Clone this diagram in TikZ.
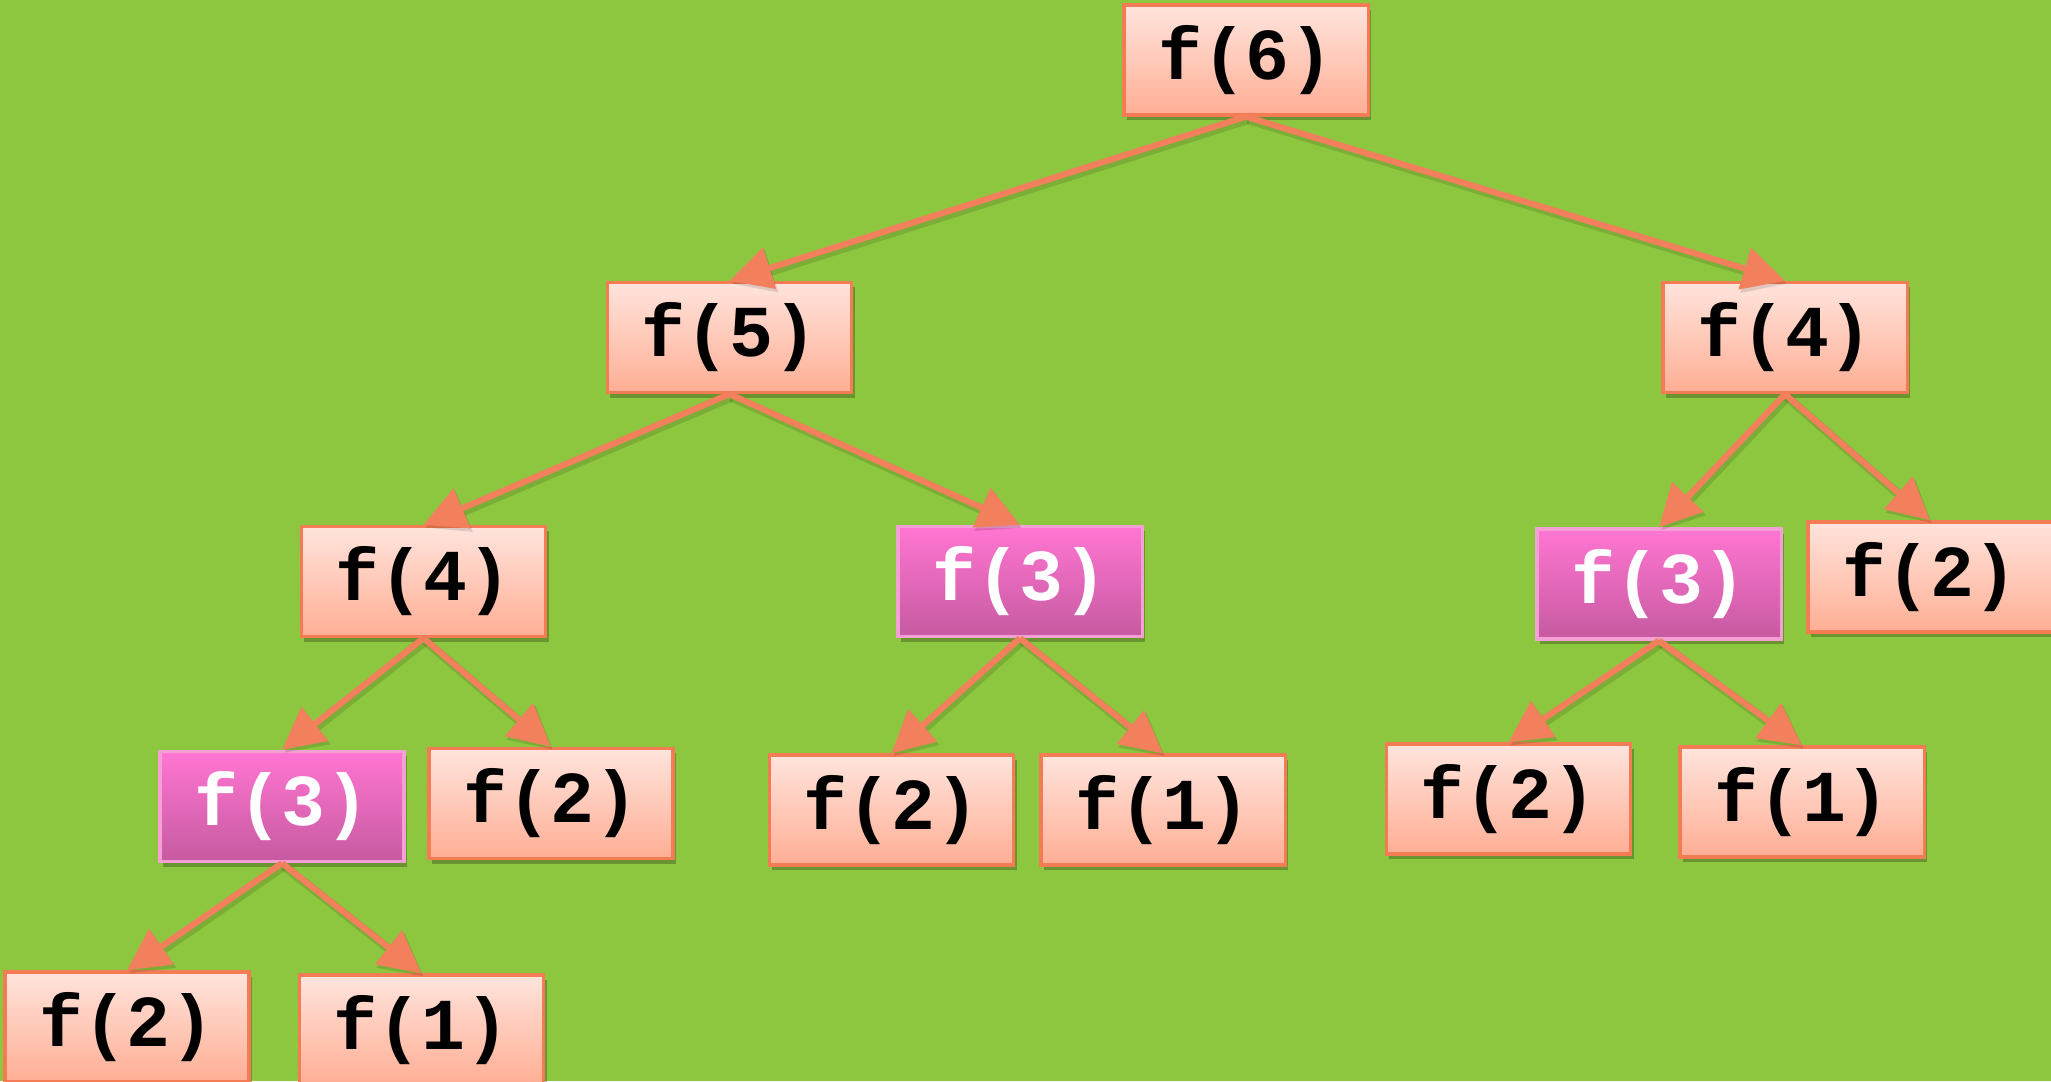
\documentclass[tikz,border=0pt]{standalone}
\usepackage{fontspec}
\setmonofont{Liberation Mono}
\usetikzlibrary{arrows.meta,shadows}
\definecolor{bggreen}{RGB}{141,198,63}
\definecolor{arrcol}{RGB}{242,128,92}
\definecolor{saltop}{RGB}{255,228,221}
\definecolor{salbot}{RGB}{255,174,148}
\definecolor{salbord}{RGB}{244,124,85}
\definecolor{pinktop}{RGB}{255,118,210}
\definecolor{pinkbot}{RGB}{198,90,160}
\definecolor{pinkbord}{RGB}{243,160,212}
\tikzset{
  callbox/.style={rectangle, minimum width=2.44cm, minimum height=1.10cm,
    line width=0.9pt, inner sep=0pt,
    font=\ttfamily\bfseries\fontsize{20.8pt}{24pt}\selectfont,
    drop shadow={shadow xshift=0.03cm, shadow yshift=-0.05cm, opacity=0.25, fill=black}},
  salbox/.style={callbox, draw=salbord, top color=saltop, bottom color=salbot, text=black},
  pinkbox/.style={callbox, draw=pinkbord, top color=pinktop, bottom color=pinkbot, text=white},
  arr/.style={draw=arrcol, line width=1.75pt, -{Triangle[length=0.42cm,width=0.42cm]},
    preaction={draw=black, opacity=0.12, line width=2.5pt, transform canvas={xshift=0.02cm,yshift=-0.03cm}}}
}
\begin{document}
\begin{tikzpicture}[x=0.01cm,y=-0.01cm]
\fill[bggreen] (0,0) rectangle (2051,1081);
\useasboundingbox (0,0) rectangle (2051,1081);
\node[salbox] (n6) at (1246,60) {f(6)};
\node[salbox] (n5) at (729.5,337.5) {f(5)};
\node[salbox] (n4r) at (1785,337.5) {f(4)};
\node[salbox] (n4l) at (423.5,581.5) {f(4)};
\node[pinkbox] (n3m) at (1020,581.5) {f(3)};
\node[pinkbox] (n3r) at (1659,584) {f(3)};
\node[salbox] (n2r) at (1930,577) {f(2)};
\node[pinkbox] (n3l) at (282,806.5) {f(3)};
\node[salbox] (n2l) at (551,803.5) {f(2)};
\node[salbox] (n2m) at (891.5,810) {f(2)};
\node[salbox] (n1m) at (1163,810) {f(1)};
\node[salbox] (n2rr) at (1508.5,799) {f(2)};
\node[salbox] (n1rr) at (1802,802) {f(1)};
\node[salbox] (n2b) at (127,1027) {f(2)};
\node[salbox] (n1b) at (421.5,1030) {f(1)};
\draw[arr] (n6.south) -- (n5.north);
\draw[arr] (n6.south) -- (n4r.north);
\draw[arr] (n5.south) -- (n4l.north);
\draw[arr] (n5.south) -- (n3m.north);
\draw[arr] (n4r.south) -- (n3r.north);
\draw[arr] (n4r.south) -- (n2r.north);
\draw[arr] (n4l.south) -- (n3l.north);
\draw[arr] (n4l.south) -- (n2l.north);
\draw[arr] (n3m.south) -- (n2m.north);
\draw[arr] (n3m.south) -- (n1m.north);
\draw[arr] (n3r.south) -- (n2rr.north);
\draw[arr] (n3r.south) -- (n1rr.north);
\draw[arr] (n3l.south) -- (n2b.north);
\draw[arr] (n3l.south) -- (n1b.north);
\end{tikzpicture}
\end{document}
